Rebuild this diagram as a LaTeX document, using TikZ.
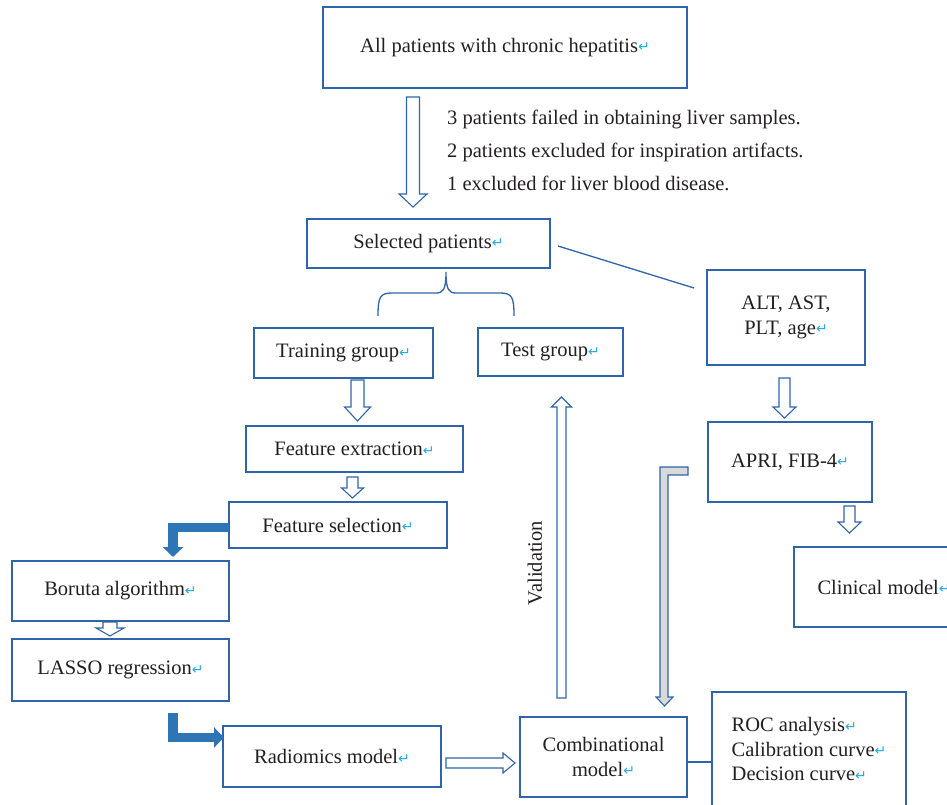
\documentclass[tikz,border=0pt]{standalone}
\usepackage{fontspec}
\setmainfont{Liberation Serif}
\newfontfamily\retfont{DejaVu Sans}
\usetikzlibrary{arrows.meta, calc, positioning}
\definecolor{boxblue}{RGB}{47,100,168}
\definecolor{fatblue}{RGB}{46,117,182}
\definecolor{shadegrey}{RGB}{217,217,217}
\definecolor{retcyan}{RGB}{38,170,225}
\definecolor{ink}{RGB}{35,31,32}
% small return mark behind each box text
\newcommand\ret{{\retfont\fontsize{14}{14}\selectfont\textcolor{retcyan}{\raisebox{0.5pt}{↵}}}}

\begin{document}
\begin{tikzpicture}[% styles used in the flow chart
        x = 1pt, y = -1pt,
        > = {Triangle[length=10pt, width=20pt]},
  txt/.style = {font=\fontsize{20.5}{24.5}\selectfont, text=ink},
  box/.style args = {#1/#2}{txt, draw=boxblue, line width=1.3pt, fill=white,
                minimum width=#1pt, minimum height=#2pt,
                inner sep=0pt, outer sep=0pt, align=center},
 link/.style = {draw=boxblue, line width=1.3pt},
  fat/.style = {draw=fatblue, line width=9.5pt, ->},
shaded/.style = {fill=shadegrey, draw=boxblue, line width=1.1pt},
hollow/.style args = {#1/#2/#3}{draw=boxblue, line width=1.1pt, fill=white,
                to path={let \p1=(\tikztostart), \p2=(\tikztotarget),
                             \n1={atan2(\y2-\y1,\x2-\x1)}, \n2={\n1+90},
                             \n3={\n1-90}, \n4={\n1+180} in
                         ($(\p1)+(\n2:#1pt)$) -- ($(\p2)+(\n4:#3pt)+(\n2:#1pt)$)
                         -- ($(\p2)+(\n4:#3pt)+(\n2:#2pt)$) -- (\p2)
                         -- ($(\p2)+(\n4:#3pt)+(\n3:#2pt)$)
                         -- ($(\p2)+(\n4:#3pt)+(\n3:#1pt)$)
                         -- ($(\p1)+(\n3:#1pt)$) -- cycle}}
                    ]
    \useasboundingbox (0,0) rectangle (947,805);
    \clip (0,0) rectangle (947,805);

    % boxes
    \node[box=364/81] (all) at (505,47.5) {All patients with chronic hepatitis\ret};
    \node[txt, font=\fontsize{20.5}{33}\selectfont, align=left, anchor=west, inner sep=0pt]
        (excl) at (447,150) {3 patients failed in obtaining liver samples.\\
                             2 patients excluded for inspiration artifacts.\\
                             1 excluded for liver blood disease.};
    \node[box=243/49] (sel)   at (428.5,243.5) {Selected patients\ret};
    \node[box=179/50] (train) at (343.5,353)   {Training group\ret};
    \node[box=145/48] (test)  at (550.5,352)   {Test group\ret};
    \node[box=158/95] (alt)   at (786,317.5)   {ALT, AST,\\PLT, age\ret};
    \node[box=164/80] (apri)  at (790,462)     {APRI, FIB-4\ret};
    \node[box=180/80] (clin)  at (884,587)     {Clinical model\ret};
    \node[box=217/46] (fext)  at (354.5,449)   {Feature extraction\ret};
    \node[box=218/46] (fsel)  at (338,525)     {Feature selection\ret};
    \node[box=217/60] (bor)   at (120.5,591)   {Boruta algorithm\ret};
    \node[box=217/62] (lasso) at (120.5,670)   {LASSO regression\ret};
    \node[box=218/61] (rad)   at (332,756.5)   {Radiomics model\ret};
    \node[box=167/80] (comb)  at (603.5,757)   {Combinational\\model\ret};
    \node[box=194/114, align=left] (roc) at (809,749)
        {ROC analysis\ret\\Calibration curve\ret\\Decision curve\ret};
    \node[txt, rotate=90] (val) at (535,563) {Validation};

    % brace under selected patients
    \draw[link] (378,316) .. controls (378,297) and (380,293) .. (392,293)
                -- (436,293) .. controls (443,293) and (446,290) .. (446,272)
                .. controls (446,290) and (449,293) .. (456,293)
                -- (500,293) .. controls (512,293) and (514,297) .. (514,316);

    % plain lines
    \draw[link] ($(sel.east)+(8,2.5)$) -- ($(alt.west)+(-13,-29.5)$);
    \draw[link] ($(comb.east)+(0,5)$) -- ($(roc.west)+(0,13)$);

    % hollow block arrows
    \draw[hollow=6.5/14/13]   ($(all.south)+(-92,9)$)     to ($(sel.north)+(-15.5,-12)$);
    \draw[hollow=6.5/13/14]   ($(train.south)+(14,2)$)    to ($(fext.north)+(3,-5)$);
    \draw[hollow=5.5/11/10]   ($(fext.south)+(-2,5)$)     to ($(fsel.north)+(14.5,-4)$);
    \draw[hollow=7/14/8]      ($(bor.south)+(-10.5,1)$)   to ($(lasso.north)+(-10.5,-3)$);
    \draw[hollow=5/10/12]     ($(rad.east)+(5,6.5)$)      to ($(comb.west)+(-5,6)$);
    \draw[hollow=4.5/10/10]   ($(comb.north)+(-42,-19)$)  to ($(test.south)+(11,21)$);
    \draw[hollow=5.5/11.5/11] ($(alt.south)+(-1.5,13)$)   to ($(apri.north)+(-5.5,-4)$);
    \draw[hollow=5.5/11.5/11] ($(apri.south)+(59.5,4)$)   to ($(clin.north)+(-34.5,-14)$);

    % bent arrows
    \draw[fat] ($(fsel.west)+(0,2.5)$) -| ($(bor.north)+(52.5,-4)$);
    \draw[fat] ($(lasso.south)+(52.5,12)$) |- ($(rad.west)+(1,-19)$);
    \filldraw[shaded] (688,467) -- (660,467) -- (660,697) -- (656,697) -- (664.5,706)
                      -- (673,697) -- (668,697) -- (668,475) -- (688,475) -- cycle;
\end{tikzpicture}
\end{document}
